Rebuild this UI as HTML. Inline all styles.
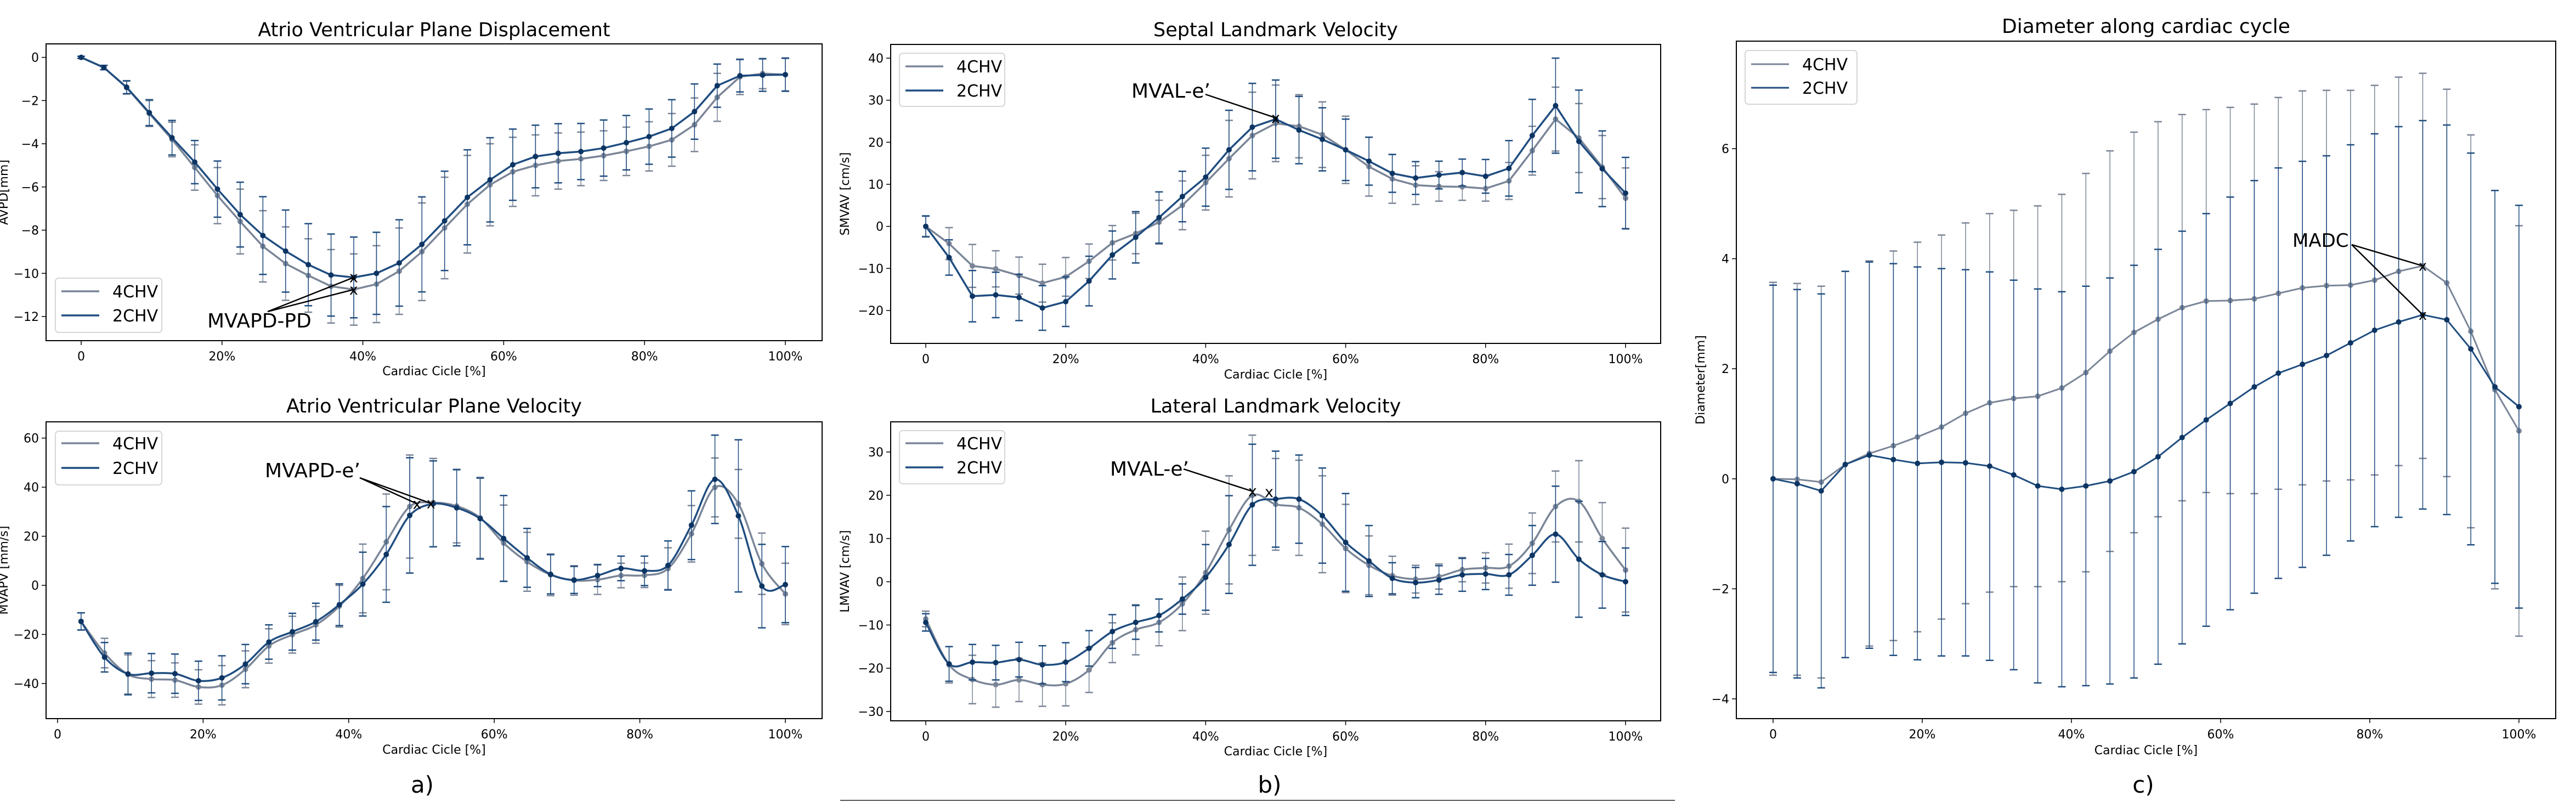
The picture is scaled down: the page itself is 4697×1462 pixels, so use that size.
<!DOCTYPE html>
<html><head><meta charset="utf-8"><style>
html,body{margin:0;padding:0;background:#fff;}
svg{display:block;font-family:"DejaVu Sans","Liberation Sans",sans-serif;}
</style></head><body>
<svg id="fig" xmlns="http://www.w3.org/2000/svg" width="4697" height="1462" viewBox="0 0 4697 1462">
<rect width="4697" height="1462" fill="#fff"/>
<text x="770" y="1445" font-size="42" text-anchor="middle">a)</text>
<text x="2315" y="1445" font-size="42" text-anchor="middle">b)</text>
<text x="3908" y="1445" font-size="42" text-anchor="middle">c)</text>
<line x1="1532" y1="1459" x2="3054" y2="1459" stroke="#555" stroke-width="2"/>
</svg>
<script>
// ---- Panel a-top: AV plane displacement (x = i/31, i=0..31)
const apdX = [0,1,2,3,4,5,6,7,8,9,10,11,12,13,14,15,16,17,18,19,20,21,22,23,24,25,26,27,28,29,30,31];
const apd2 = [0,-0.47,-1.38,-2.56,-3.72,-4.85,-6.1,-7.28,-8.25,-8.97,-9.6,-10.08,-10.19,-10.0,-9.52,-8.66,-7.57,-6.48,-5.67,-4.97,-4.59,-4.44,-4.36,-4.2,-3.95,-3.67,-3.29,-2.51,-1.31,-0.85,-0.82,-0.8];
const apd4 = [0,-0.47,-1.4,-2.6,-3.8,-5.1,-6.4,-7.6,-8.75,-9.55,-10.1,-10.6,-10.75,-10.5,-9.9,-9.0,-7.9,-6.8,-5.9,-5.3,-5.0,-4.8,-4.7,-4.55,-4.35,-4.12,-3.82,-3.12,-1.85,-0.9,-0.75,-0.8];
const apd2Std = [0.05,0.1,0.3,0.6,0.8,1.0,1.3,1.5,1.8,1.9,1.9,1.9,1.87,1.9,2.0,2.2,2.3,2.2,1.95,1.65,1.45,1.37,1.3,1.3,1.26,1.28,1.33,1.28,1.0,0.75,0.75,0.77];
const apd4Std = [0.05,0.1,0.3,0.6,0.8,1.05,1.3,1.5,1.65,1.7,1.7,1.7,1.65,1.78,2.0,2.26,2.35,2.26,1.9,1.6,1.41,1.3,1.24,1.15,1.12,1.14,1.22,1.24,1.11,0.82,0.7,0.75];
const apdYTicks = [0,-2,-4,-6,-8,-10,-12];
// ---- Panel a-bottom: AV plane velocity (x = i/31, i=1..31)
const avpvX = [1,2,3,4,5,6,7,8,9,10,11,12,13,14,15,16,17,18,19,20,21,22,23,24,25,26,27,28,29,30,31];
const avpv2 = [-14.7,-29.3,-36.1,-35.8,-36,-38.9,-37.7,-32.1,-23.1,-18.9,-14.8,-7.9,0.5,12.6,28.5,33.2,31.6,27.2,19.1,11.2,4.5,2.2,4.0,6.9,5.9,8.1,24.5,43.2,28.3,-0.3,0.3];
const avpv4 = [-14.7,-27.6,-36.3,-38.2,-38.6,-41.4,-40.7,-34.2,-24.7,-20.1,-16.1,-8.5,2.8,17.7,32.1,33.7,32.3,27.5,17.2,9.6,4.3,2.0,2.3,4.0,4.1,6.8,21.0,39.9,33.2,8.8,-3.5];
const avpv2Std = [3.5,6,8.5,8,8,8,9,8,7,7.5,7.5,8.5,13,19.5,23.5,17.5,15.5,16.5,17.5,12,8,5.5,4.5,5,6,10,14,18,31,17,15.5];
const avpv4Std = [3.5,6,8,7.5,7,7,8,7.5,7,7.5,7.5,8.5,14,19.5,21,18,15,16.5,15.5,12,8.5,6,6,5,5,8.5,11.5,12,14,12.5,12.5];
const avpvYTicks = [60,40,20,0,-20,-40];
// ---- Panel b-top: septal velocity (x = i/30)
const smX = [0,1,2,3,4,5,6,7,8,9,10,11,12,13,14,15,16,17,18,19,20,21,22,23,24,25,26,27,28,29,30];
const sm2 = [0,-7.4,-16.6,-16.3,-16.9,-19.4,-17.9,-13.0,-6.8,-2.6,2.1,7.1,11.7,18.2,23.6,25.5,22.9,20.7,18.2,15.5,12.6,11.5,12.2,12.8,11.9,13.8,21.6,28.7,20.2,13.7,7.9];
const sm4 = [0,-4.1,-9.4,-10.1,-11.7,-13.5,-12,-8.3,-3.9,-1.7,1.0,5.0,10.4,16.1,21.6,24.5,23.8,21.8,18.2,14.2,11.3,9.8,9.5,9.4,9.0,10.8,18.0,25.5,21.0,14.1,6.7];
const sm2Std = [2.5,4.2,6.1,5.4,5.5,5.3,5.9,5.9,5.7,6.1,6.1,6.0,6.9,9.4,10.4,9.3,8.0,7.5,7.3,5.7,4.5,3.9,3.3,3.2,4.0,6.6,8.6,11.3,12.2,9.0,8.5];
const sm4Std = [2.4,3.8,5.1,4.3,4.4,4.5,4.6,4.1,4.1,4.8,5.2,5.8,6.5,9.1,10.3,9.1,7.5,7.8,8.0,7.0,5.8,4.6,3.5,3.2,3.0,4.4,5.8,7.6,8.2,7.5,7.2];
const smYTicks = [40,30,20,10,0,-10,-20];
// ---- Panel b-bottom: lateral velocity (x = i/30)
const lmX = [0,1,2,3,4,5,6,7,8,9,10,11,12,13,14,15,16,17,18,19,20,21,22,23,24,25,26,27,28,29,30];
const lm2 = [-9.4,-19.0,-18.6,-18.7,-18.0,-19.2,-18.6,-15.4,-11.5,-9.4,-7.8,-4.0,1.0,8.6,17.8,19.1,19.1,15.3,9.1,4.8,0.8,-0.2,0.4,1.6,1.8,1.6,6.1,11.0,5.2,1.6,0.0];
const lm4 = [-8.6,-19.2,-22.6,-23.8,-22.7,-23.8,-23.6,-20.4,-14.1,-11.1,-9.4,-5.1,2.1,12.0,20.0,17.9,17.1,13.3,7.7,3.8,1.4,0.6,1.2,2.8,3.2,3.6,8.9,17.4,18.6,10.0,2.7];
const lm2Std = [2.0,4.0,4.1,4.0,4.0,4.4,4.5,4.1,3.9,3.9,3.8,3.5,7.6,11.3,14.0,11.1,10.2,11.0,11.3,8.2,3.6,3.5,3.3,3.8,3.6,4.7,6.9,11.1,13.4,7.7,7.8];
const lm4Std = [1.8,4.2,5.6,5.2,5.0,5.0,5.1,5.2,4.6,5.8,5.4,6.2,9.6,12.5,13.9,10.6,11.0,11.2,10.2,6.8,4.5,3.2,2.9,2.8,3.5,5.1,7.0,8.2,9.4,8.3,9.7];
const lmYTicks = [30,20,10,0,-10,-20,-30];
// ---- Panel c: diameter (x = i/31)
const dX = [0,1,2,3,4,5,6,7,8,9,10,11,12,13,14,15,16,17,18,19,20,21,22,23,24,25,26,27,28,29,30,31];
const d2 = [0,-0.09,-0.22,0.26,0.43,0.35,0.28,0.30,0.29,0.23,0.07,-0.13,-0.19,-0.13,-0.04,0.13,0.40,0.75,1.07,1.37,1.67,1.92,2.08,2.24,2.47,2.70,2.85,2.98,2.89,2.36,1.67,1.31];
const d4 = [0,-0.01,-0.06,0.26,0.46,0.60,0.76,0.94,1.19,1.38,1.46,1.50,1.65,1.93,2.32,2.66,2.90,3.11,3.23,3.24,3.27,3.37,3.47,3.51,3.52,3.61,3.77,3.87,3.56,2.68,1.62,0.87];
const d2Std = [3.52,3.53,3.58,3.51,3.51,3.56,3.57,3.52,3.51,3.53,3.54,3.58,3.59,3.63,3.69,3.75,3.77,3.75,3.75,3.75,3.75,3.73,3.69,3.63,3.6,3.57,3.55,3.53,3.54,3.56,3.57,3.66];
const d4Std = [3.57,3.56,3.56,3.51,3.5,3.54,3.54,3.49,3.46,3.44,3.42,3.46,3.52,3.62,3.64,3.64,3.59,3.51,3.48,3.51,3.54,3.56,3.58,3.55,3.54,3.54,3.53,3.5,3.52,3.57,3.62,3.73];
const dYTicks = [6,4,2,0,-2,-4];
const xTickLabels = ["0","20%","40%","60%","80%","100%"];
const xTickVals = [0,20,40,60,80,100];

const NS = "http://www.w3.org/2000/svg";
const svg = document.getElementById('fig');
const C4 = "#7a8597", C2 = "#1f4d80", M2 = "#0d3563";
function mk(tag, attrs, parent){const e=document.createElementNS(NS,tag);for(const k in attrs)e.setAttribute(k,attrs[k]);(parent||svg).appendChild(e);return e;}
function txt(s, attrs, parent){const e=mk('text',attrs,parent);e.textContent=s;return e;}

function catmull(pts){
  let d="M"+pts[0][0]+","+pts[0][1];
  for(let i=0;i<pts.length-1;i++){
    const p0=pts[Math.max(0,i-1)],p1=pts[i],p2=pts[i+1],p3=pts[Math.min(pts.length-1,i+2)];
    const c1x=p1[0]+(p2[0]-p0[0])/6,c1y=p1[1]+(p2[1]-p0[1])/6;
    const c2x=p2[0]-(p3[0]-p1[0])/6,c2y=p2[1]-(p3[1]-p1[1])/6;
    d+=" C"+c1x+","+c1y+" "+c2x+","+c2y+" "+p2[0]+","+p2[1];
  }
  return d;
}

function panel(cfg){
  const g = mk('g',{});
  
  
  const sx = v => cfg.x0 + (cfg.x100-cfg.x0)*v/100;
  const sy = v => cfg.yA + (cfg.yB-cfg.yA)*(v-cfg.vA)/(cfg.vB-cfg.vA);
  const fs = cfg.fs;
  // title
  const t = txt(cfg.title,{x:(cfg.L+cfg.R)/2,y:cfg.titleY,'font-size':cfg.titleFs,'text-anchor':'middle'},g);
  
  
  // x ticks
  xTickVals.forEach((v,i)=>{
    const x=sx(v);
    mk('line',{x1:x,y1:cfg.B,x2:x,y2:cfg.B+8,stroke:'#000','stroke-width':1.5},g);
    const tl=txt(xTickLabels[i],{x:x,y:cfg.B+36,'font-size':fs,'text-anchor':'middle'},g);
    
    
  });
  const xl=txt("Cardiac Cicle [%]",{x:(cfg.L+cfg.R)/2,y:cfg.xlabY,'font-size':fs,'text-anchor':'middle'},g);
  
  
  cfg.yTicks.forEach(v=>{
    const y=sy(v);
    mk('line',{x1:cfg.L-8,y1:y,x2:cfg.L,y2:y,stroke:'#000','stroke-width':1.5},g);
    const lab = (v<0?"\u2212"+(-v):""+v);
    const tl=txt(lab,{x:cfg.L-13,y:y+8,'font-size':fs,'text-anchor':'end'},g);
    
    
  });
  const yl=txt(cfg.ylabel,{x:0,y:0,'font-size':fs,'text-anchor':'middle',transform:`translate(${cfg.ylabX},${(cfg.T+cfg.B)/2}) rotate(-90)`},g);
  
  
  // series
  const series=[{x:cfg.xs,y:cfg.y4,s:cfg.s4,c:C4,m:C4,n:'series-4chv'},{x:cfg.xs,y:cfg.y2,s:cfg.s2,c:C2,m:M2,n:'series-2chv'}];
  series.forEach(se=>{
    const sg=mk('g',{},g);
    
    
    se.x.forEach((xi,i)=>{
      const x=sx(xi*100/cfg.div), y1=sy(se.y[i]+se.s[i]), y2=sy(se.y[i]-se.s[i]);
      const eb=mk('g',{stroke:se.c},sg);
      
      
      mk('line',{x1:x,y1:y1,x2:x,y2:y2,'stroke-width':cfg.ebw},eb);
      mk('line',{x1:x-7,y1:y1,x2:x+7,y2:y1,'stroke-width':cfg.ebw+1},eb);
      mk('line',{x1:x-7,y1:y2,x2:x+7,y2:y2,'stroke-width':cfg.ebw+1},eb);
    });
    const pts=se.x.map((xi,i)=>[sx(xi*100/cfg.div),sy(se.y[i])]);
    const d = cfg.smooth ? catmull(pts) : "M"+pts.map(p=>p.join(",")).join(" L");
    const p=mk('path',{d:d,fill:'none',stroke:se.c,'stroke-width':cfg.lw,'stroke-linejoin':'round'},sg);
    
    
    pts.forEach(pt=>{
      const c=mk('circle',{cx:pt[0],cy:pt[1],r:cfg.mr,fill:se.m},sg);
      
      
    });
  });
  // annotation
  const ag=mk('g',{},g);
  
  
  txt(cfg.ann.text,{x:cfg.ann.tx,y:cfg.ann.ty,'font-size':cfg.ann.fs,'text-anchor':'start'},ag);
  cfg.ann.pts.forEach(p=>{
    const x=sx(p[0]),y=sy(p[1]);
    mk('line',{x1:cfg.ann.ax,y1:cfg.ann.ay,x2:x,y2:y,stroke:'#000','stroke-width':2.5},ag);
    txt("x",{x:x,y:y+9,'font-size':cfg.ann.fs*0.75,'text-anchor':'middle'},ag);
  });
  // frame
  mk('rect',{x:cfg.L,y:cfg.T,width:cfg.R-cfg.L,height:cfg.B-cfg.T,fill:'none',stroke:'#000','stroke-width':2},g);
  // legend
  const lg=mk('g',{},g);
  
  
  const L=cfg.leg;
  mk('rect',{x:L.x,y:L.y,width:L.w,height:L.h,rx:6,fill:'#fff','fill-opacity':0.85,stroke:'#d6d6d6','stroke-width':2},lg);
  [["4CHV",C4,L.e1],["2CHV",C2,L.e2]].forEach(e=>{
    const eg=mk('g',{},lg);
    
    
    mk('line',{x1:L.x+11,y1:e[2],x2:L.x+80,y2:e[2],stroke:e[1],'stroke-width':cfg.lw},eg);
    txt(e[0],{x:L.x+104,y:e[2]+11,'font-size':30},eg);
  });
}

panel({name:'chart-avpd',title:'Atrio Ventricular Plane Displacement',titleFs:35,titleY:66,L:84,R:1499,T:80,B:621,
  x0:148,x100:1432,yA:104.6,vA:0,yB:577,vB:-12,xs:apdX,div:31,y2:apd2,y4:apd4,s2:apd2Std,s4:apd4Std,yTicks:apdYTicks,
  fs:22,xlabY:684,ylabel:'AVPD[mm]',ylabX:14,smooth:false,lw:3.5,mr:5,ebw:1.5,
  ann:{text:'MVAPD-PD',tx:378,ty:597,fs:36,ax:488,ay:568,pts:[[38.7,-10.19],[38.7,-10.75]]},
  leg:{x:101,y:507,w:194,h:99,e1:531,e2:575}});
panel({name:'chart-avpv',title:'Atrio Ventricular Plane Velocity',titleFs:35,titleY:752,L:84,R:1499,T:769,B:1310,
  x0:105,x100:1432,yA:798.6,vA:60,yB:1246,vB:-40,xs:avpvX,div:31,y2:avpv2,y4:avpv4,s2:avpv2Std,s4:avpv4Std,yTicks:avpvYTicks,
  fs:22,xlabY:1374,ylabel:'MVAPV [mm/s]',ylabX:14,smooth:true,lw:3.5,mr:5,ebw:1.5,
  ann:{text:'MVAPD-e\u2019',tx:483,ty:870,fs:36,ax:656,ay:871,pts:[[49.4,33.2],[51.3,33.4]]},
  leg:{x:101,y:786,w:194,h:98,e1:808,e2:853}});
panel({name:'chart-septal',title:'Septal Landmark Velocity',titleFs:35,titleY:66,L:1624,R:3028,T:81,B:626,
  x0:1688,x100:2964,yA:106,vA:40,yB:566,vB:-20,xs:smX,div:30,y2:sm2,y4:sm4,s2:sm2Std,s4:sm4Std,yTicks:smYTicks,
  fs:22,xlabY:690,ylabel:'SMVAV [cm/s]',ylabX:1548,smooth:false,lw:3.5,mr:5,ebw:1.5,
  ann:{text:'MVAL-e\u2019',tx:2063,ty:178,fs:36,ax:2198,ay:172,pts:[[50,25.8]]},
  leg:{x:1640,y:97,w:192,h:97,e1:121,e2:165}});
panel({name:'chart-lateral',title:'Lateral Landmark Velocity',titleFs:35,titleY:752,L:1624,R:3028,T:769,B:1314,
  x0:1688,x100:2964,yA:824,vA:30,yB:1297,vB:-30,xs:lmX,div:30,y2:lm2,y4:lm4,s2:lm2Std,s4:lm4Std,yTicks:lmYTicks,
  fs:22,xlabY:1377,ylabel:'LMVAV [cm/s]',ylabX:1548,smooth:true,lw:3.5,mr:5,ebw:1.5,
  ann:{text:'MVAL-e\u2019',tx:2024,ty:867,fs:36,ax:2158,ay:855,pts:[[46.7,20.9]]},
  leg:{x:1640,y:785,w:192,h:97,e1:808,e2:852}});
panel({name:'chart-diameter',title:'Diameter along cardiac cycle',titleFs:36,titleY:60,L:3166,R:4660,T:75,B:1310,
  x0:3233,x100:4593,yA:271,vA:6,yB:1274,vB:-4,xs:dX,div:31,y2:d2,y4:d4,s2:d2Std,s4:d4Std,yTicks:dYTicks,
  fs:22,xlabY:1375,ylabel:'Diameter[mm]',ylabX:3108,smooth:false,lw:3,mr:5,ebw:1.5,
  ann:{text:'MADC',tx:4180,ty:450,fs:34,ax:4288,ay:446,pts:[[87.1,3.87],[87.1,2.98]]},
  leg:{x:3182,y:92,w:204,h:98,e1:117,e2:160}});
// extra x marker for lateral second annotation point
(function(){
  const g=mk('text',{x:2314,y:906,'font-size':27,'text-anchor':'middle'});
  g.textContent='x';
  
  
})();
</script>
</body></html>
